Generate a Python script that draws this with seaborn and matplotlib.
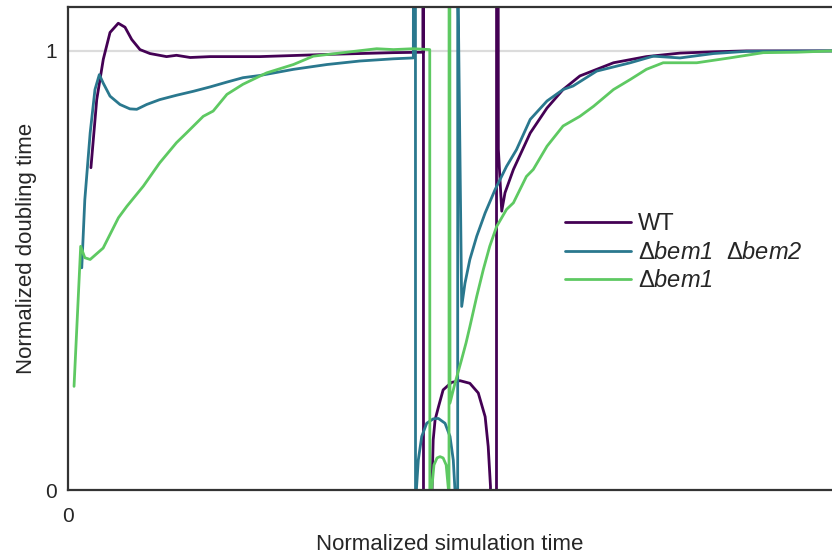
import pandas as pd
import seaborn as sns
import matplotlib.pyplot as plt

# normalized time / doubling time
# (+-5 marks where the curve shoots off the axes)
wt_x = [0.030, 0.0376, 0.0462, 0.055, 0.0658, 0.0746, 0.0834, 0.0942, 0.1073, 0.129,
        0.142, 0.160, 0.186, 0.251, 0.339, 0.425, 0.4645, 0.4650, 0.4656, 0.4765,
        0.4772, 0.478, 0.4805, 0.485, 0.491, 0.502, 0.513, 0.526, 0.537, 0.546,
        0.550, 0.553, 0.5545, 0.5605, 0.5612, 0.5633, 0.5677, 0.572, 0.583, 0.605,
        0.627, 0.648, 0.670, 0.714, 0.757, 0.801, 0.845, 0.888, 1.0]
wt_y = [0.734, 0.889, 0.981, 1.042, 1.063, 1.054, 1.026, 1.003, 0.994, 0.987,
        0.990, 0.985, 0.987, 0.987, 0.992, 0.996, 0.997, 5, -5, 0.0,
        0.060, 0.114, 0.160, 0.190, 0.228, 0.245, 0.249, 0.243, 0.221, 0.167,
        0.099, 0.008, -5, -5, 5, 0.776, 0.635, 0.677, 0.730, 0.813,
        0.870, 0.912, 0.943, 0.973, 0.987, 0.995, 0.998, 1.0, 1.0]

dd_x = [0.018, 0.022, 0.029, 0.0353, 0.041, 0.046, 0.055, 0.068, 0.081, 0.090,
        0.103, 0.120, 0.142, 0.164, 0.186, 0.208, 0.229, 0.251, 0.295, 0.339,
        0.382, 0.426, 0.452, 0.4545, 0.4552, 0.4560, 0.4585, 0.463, 0.4695, 0.478,
        0.4847, 0.4935, 0.500, 0.5043, 0.5065, 0.5080, 0.5098, 0.5103, 0.5105, 0.5153,
        0.5196, 0.526, 0.535, 0.546, 0.559, 0.574, 0.587, 0.605, 0.627, 0.648,
        0.661, 0.692, 0.736, 0.766, 0.801, 0.845, 0.888, 1.0]
dd_y = [0.506, 0.661, 0.813, 0.912, 0.946, 0.927, 0.897, 0.878, 0.868, 0.867,
        0.878, 0.889, 0.899, 0.908, 0.918, 0.929, 0.939, 0.944, 0.958, 0.969,
        0.977, 0.982, 0.984, 5, -5, 0.0, 0.068, 0.122, 0.152, 0.162,
        0.163, 0.152, 0.122, 0.068, 0.0, -5, -5, 5, 1.15, 0.418,
        0.471, 0.525, 0.578, 0.631, 0.684, 0.737, 0.775, 0.844, 0.886, 0.912,
        0.920, 0.954, 0.973, 0.988, 0.984, 0.994, 0.999, 1.0]

d1_x = [0.0079, 0.0166, 0.022, 0.029, 0.046, 0.066, 0.077, 0.0986, 0.120, 0.142,
        0.155, 0.177, 0.190, 0.208, 0.229, 0.260, 0.295, 0.321, 0.360, 0.404,
        0.426, 0.452, 0.4735, 0.4742, 0.4760, 0.479, 0.483, 0.4869, 0.491, 0.495,
        0.498, 0.4984, 0.4990, 0.5000, 0.5065, 0.515, 0.521, 0.526, 0.535, 0.5436,
        0.552, 0.561, 0.574, 0.583, 0.600, 0.609, 0.627, 0.648, 0.670, 0.688,
        0.714, 0.736, 0.757, 0.779, 0.823, 0.866, 0.910, 0.954, 1.0]
d1_y = [0.236, 0.555, 0.529, 0.525, 0.551, 0.620, 0.646, 0.692, 0.745, 0.791,
        0.813, 0.851, 0.863, 0.901, 0.924, 0.950, 0.969, 0.988, 0.996, 1.005,
        1.003, 1.005, 1.003, -5, 0.0, 0.057, 0.073, 0.076, 0.073, 0.057,
        0.0, -5, 5, 0.198, 0.243, 0.296, 0.335, 0.372, 0.441, 0.502,
        0.555, 0.600, 0.639, 0.654, 0.714, 0.730, 0.783, 0.829, 0.851, 0.874,
        0.912, 0.935, 0.958, 0.973, 0.973, 0.984, 0.996, 0.997, 1.0]

labels = ["WT", r"Δ$\mathrm{bem1}$  Δ$\mathrm{bem2}$", r"Δ$\mathrm{bem1}$"]
colors = ["#440154", "#2a788e", "#5ec962"]

df = pd.concat([
    pd.DataFrame({"t": wt_x, "dt": wt_y, "strain": labels[0]}),
    pd.DataFrame({"t": dd_x, "dt": dd_y, "strain": labels[1]}),
    pd.DataFrame({"t": d1_x, "dt": d1_y, "strain": labels[2]}),
], ignore_index=True)

sns.set_style("white")
plt.rcParams['font.family'] = ['Liberation Sans', 'DejaVu Sans']
plt.rcParams['mathtext.fontset'] = 'custom'
# gene names are italic, digits included
plt.rcParams['mathtext.rm'] = 'Liberation Sans:italic'
plt.rcParams['mathtext.it'] = 'Liberation Sans:italic'

fig = plt.figure(figsize=(8.32, 5.57), dpi=100)
ax = fig.add_axes([68 / 832, 67 / 557, 764 / 832, 483 / 557])

ax.axhline(1, color="#dcdcdc", lw=1.6, zorder=1)
sns.lineplot(data=df, x="t", y="dt", hue="strain", hue_order=labels,
             palette=dict(zip(labels, colors)), sort=False, estimator=None,
             lw=2, ax=ax, zorder=2)

ax.set_xlim(0, 1)
ax.set_ylim(0, 1.1)
ax.set_xticks([0])
ax.set_yticks([0, 1])
ax.tick_params(direction="in", length=7, width=1.5, labelsize=15,
               colors="#262626", pad=8)
ax.tick_params(axis="x", pad=12)
ax.set_xlabel("Normalized simulation time", fontsize=16, color="#262626", labelpad=6)
ax.set_ylabel("Normalized doubling time", fontsize=16, color="#262626", labelpad=6)

for side in ["left", "bottom", "top"]:
    ax.spines[side].set_color("#333333")
    ax.spines[side].set_linewidth(1.6)
ax.spines["right"].set_visible(False)

handles, labs = ax.get_legend_handles_labels()
ax.legend(handles, labs, loc="upper left", bbox_to_anchor=(0.650, 0.573),
          frameon=False, fontsize=17, handlelength=2.8, handletextpad=0.3,
          labelspacing=0.28, borderpad=0, borderaxespad=0)

fig.savefig("out.png", dpi=100)
plt.close()
